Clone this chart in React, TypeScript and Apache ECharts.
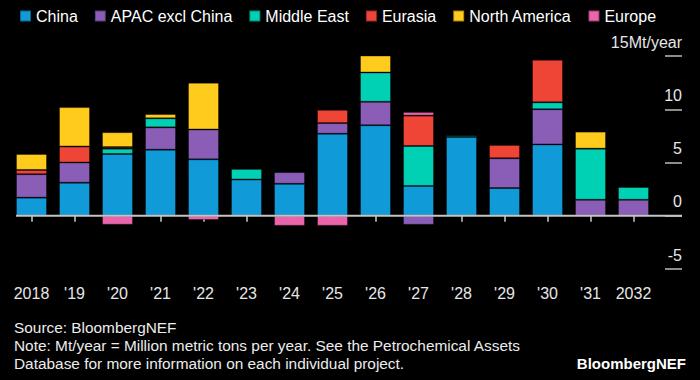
import React, { useEffect, useRef } from "react";
import * as echarts from "echarts";

const categories = ["2018", "'19", "'20", "'21", "'22", "'23", "'24", "'25", "'26", "'27", "'28", "'29", "'30", "'31", "2032"];
const china = [1.7, 3.1, 5.8, 6.2, 5.3, 3.4, 3.0, 7.7, 8.5, 2.8, 7.4, 2.6, 6.7, 0, 0];
const apac = [2.2, 1.9, 0, 2.1, 2.8, 0, 1.1, 1.0, 2.2, -0.85, 0, 2.8, 3.3, 1.5, 1.5];
const middleEast = [0, 0, 0.5, 0.85, 0, 1.0, 0, 0, 2.75, 3.75, 0.15, 0, 0.65, 4.8, 1.2];
const eurasia = [0.4, 1.5, 0.15, 0, 0, 0, 0, 1.25, 0, 2.85, 0, 1.25, 4.0, 0, 0];
const northAmerica = [1.5, 3.7, 1.4, 0.4, 4.4, 0, 0, 0, 2.1, 0, 0, 0, 0, 1.6, 0];
const europe = [0, 0, -0.85, 0, -0.4, 0, -0.95, -0.95, 0, 0.35, 0, 0, 0, 0, 0];

const seriesNames = ["China", "APAC excl China", "Middle East", "Eurasia", "North America", "Europe"];
const seriesData = [china, apac, middleEast, eurasia, northAmerica, europe];
const seriesColors = ["#109bd8", "#8a5eb6", "#00d1b4", "#ef4536", "#ffcb1c", "#e964a8"];
const yTicks = { min: -5, max: 15, interval: 5 };
const footerLines = [
  "Source: BloombergNEF",
  "Note: Mt/year = Million metric tons per year. See the Petrochemical Assets",
  "Database for more information on each individual project.",
];

const FONT = '"Liberation Sans", Arial, sans-serif';

export default function App() {
  const ref = useRef<HTMLDivElement>(null);
  useEffect(() => {
    document.body.style.margin = "0";
    document.body.style.background = "#000";
    const chart = echarts.init(ref.current!, null, { renderer: "svg" });
    const option: any = {
      animation: false,
      backgroundColor: "#000",
      textStyle: { fontFamily: FONT },
      legend: {
        left: 14,
        top: 3,
        itemWidth: 11,
        itemHeight: 11,
        itemGap: 16,
        icon: "rect",
        textStyle: { color: "#ffffff", fontSize: 16, fontFamily: FONT },
        data: seriesNames,
      },
      grid: { left: 10, right: 45, top: 56, bottom: 111 },
      xAxis: {
        type: "category",
        data: categories,
        axisLine: { show: false },
        axisTick: { show: true, alignWithLabel: true, length: 6, lineStyle: { color: "#cccccc", width: 1.5 } },
        axisLabel: { color: "#e6e6e6", fontSize: 16, margin: 16, fontFamily: FONT, interval: 0, hideOverlap: false },
      },
      yAxis: {
        type: "value",
        position: "right",
        offset: 10,
        min: yTicks.min,
        max: yTicks.max,
        interval: yTicks.interval,
        splitLine: { show: false },
        axisLine: { show: false },
        axisTick: { show: true, length: 17, lineStyle: { color: "#bbbbbb", width: 1.5 } },
        axisLabel: {
          color: "#e6e6e6",
          fontSize: 16,
          fontFamily: FONT,
          align: "right",
          verticalAlign: "bottom",
          margin: 17,
          padding: [0, 0, 6, 0],
          formatter: (v: number) => (v === 15 ? "15Mt/year" : String(v)),
        },
      },
      series: seriesNames.map((name, i) => ({
        name,
        type: "bar",
        stack: "total",
        barWidth: 31,
        itemStyle: { color: seriesColors[i], borderColor: "rgba(0,0,0,0.35)", borderWidth: 1 },
        data: seriesData[i].map((v) => (v === 0 ? null : v)),
      })),
    };
    chart.setOption(option);
    const y0 = chart.convertToPixel({ yAxisIndex: 0 }, 0) as number;
    const xFirst = chart.convertToPixel({ xAxisIndex: 0 }, categories[0]) as number;
    chart.setOption({
      graphic: [
        {
          type: "line",
          z: 100,
          shape: { x1: xFirst - 15.5, y1: y0, x2: 682, y2: y0 },
          style: { stroke: "#c4c4c4", lineWidth: 2 },
        },
        ...footerLines.map((t, i) => ({
          type: "text",
          x: 14,
          y: 327 + i * 18,
          style: { text: t, fill: "#ececec", font: `15.4px ${FONT}`, textVerticalAlign: "middle" },
        })),
        {
          type: "text",
          x: 686,
          y: 363,
          style: { text: "BloombergNEF", fill: "#ffffff", font: `bold 15px ${FONT}`, textAlign: "right", textVerticalAlign: "middle" },
        },
      ],
    });
    return () => chart.dispose();
  }, []);
  return <div ref={ref} style={{ width: 700, height: 380 }} />;
}
